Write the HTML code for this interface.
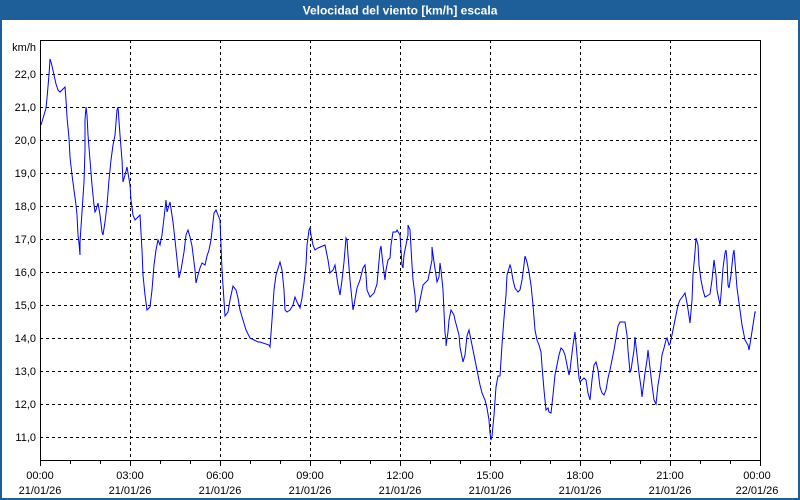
<!DOCTYPE html>
<html><head><meta charset="utf-8"><style>
body{margin:0;background:#fff;}
svg{display:block;font-family:"Liberation Sans",Tahoma,sans-serif;}
</style></head><body>
<svg width="800" height="500" xmlns="http://www.w3.org/2000/svg">
<rect x="0" y="0" width="800" height="500" fill="#1f5f99"/>
<rect x="2" y="20" width="796" height="478" fill="#fff"/>
<text x="400" y="14.5" fill="#fff" font-size="12" font-weight="bold" text-anchor="middle">Velocidad del viento [km/h] escala</text>
<g stroke="#000" stroke-width="1" stroke-dasharray="3,3" shape-rendering="crispEdges">
<line x1="40" x2="760" y1="74.5" y2="74.5"/><line x1="40" x2="760" y1="107.5" y2="107.5"/>
<line x1="40" x2="760" y1="140.5" y2="140.5"/><line x1="40" x2="760" y1="173.5" y2="173.5"/>
<line x1="40" x2="760" y1="206.5" y2="206.5"/><line x1="40" x2="760" y1="239.5" y2="239.5"/>
<line x1="40" x2="760" y1="272.5" y2="272.5"/><line x1="40" x2="760" y1="305.5" y2="305.5"/>
<line x1="40" x2="760" y1="338.5" y2="338.5"/><line x1="40" x2="760" y1="371.5" y2="371.5"/>
<line x1="40" x2="760" y1="404.5" y2="404.5"/><line x1="40" x2="760" y1="437.5" y2="437.5"/>
<line x1="130.5" x2="130.5" y1="40" y2="460"/><line x1="220.5" x2="220.5" y1="40" y2="460"/>
<line x1="310.5" x2="310.5" y1="40" y2="460"/><line x1="400.5" x2="400.5" y1="40" y2="460"/>
<line x1="490.5" x2="490.5" y1="40" y2="460"/><line x1="580.5" x2="580.5" y1="40" y2="460"/>
<line x1="670.5" x2="670.5" y1="40" y2="460"/>
</g>
<rect x="40.5" y="40.5" width="720" height="420" fill="none" stroke="#000" shape-rendering="crispEdges"/>
<g stroke="#000" shape-rendering="crispEdges">
<line x1="40.5" x2="40.5" y1="460" y2="466"/><line x1="70.5" x2="70.5" y1="460" y2="464"/><line x1="100.5" x2="100.5" y1="460" y2="464"/>
<line x1="130.5" x2="130.5" y1="460" y2="466"/><line x1="160.5" x2="160.5" y1="460" y2="464"/><line x1="190.5" x2="190.5" y1="460" y2="464"/>
<line x1="220.5" x2="220.5" y1="460" y2="466"/><line x1="250.5" x2="250.5" y1="460" y2="464"/><line x1="280.5" x2="280.5" y1="460" y2="464"/>
<line x1="310.5" x2="310.5" y1="460" y2="466"/><line x1="340.5" x2="340.5" y1="460" y2="464"/><line x1="370.5" x2="370.5" y1="460" y2="464"/>
<line x1="400.5" x2="400.5" y1="460" y2="466"/><line x1="430.5" x2="430.5" y1="460" y2="464"/><line x1="460.5" x2="460.5" y1="460" y2="464"/>
<line x1="490.5" x2="490.5" y1="460" y2="466"/><line x1="520.5" x2="520.5" y1="460" y2="464"/><line x1="550.5" x2="550.5" y1="460" y2="464"/>
<line x1="580.5" x2="580.5" y1="460" y2="466"/><line x1="610.5" x2="610.5" y1="460" y2="464"/><line x1="640.5" x2="640.5" y1="460" y2="464"/>
<line x1="670.5" x2="670.5" y1="460" y2="466"/><line x1="700.5" x2="700.5" y1="460" y2="464"/><line x1="730.5" x2="730.5" y1="460" y2="464"/>
<line x1="760.5" x2="760.5" y1="460" y2="466"/>
</g>
<g font-size="11" fill="#000" text-anchor="end">
<text x="36" y="51">km/h</text>
<text x="36" y="78">22,0</text><text x="36" y="111">21,0</text><text x="36" y="144">20,0</text>
<text x="36" y="177">19,0</text><text x="36" y="210">18,0</text><text x="36" y="243">17,0</text>
<text x="36" y="276">16,0</text><text x="36" y="309">15,0</text><text x="36" y="342">14,0</text>
<text x="36" y="375">13,0</text><text x="36" y="408">12,0</text><text x="36" y="441">11,0</text>
</g>
<g font-size="11" fill="#000" text-anchor="middle">
<text x="40" y="479">00:00</text><text x="40" y="494">21/01/26</text>
<text x="130" y="479">03:00</text><text x="130" y="494">21/01/26</text>
<text x="220" y="479">06:00</text><text x="220" y="494">21/01/26</text>
<text x="310" y="479">09:00</text><text x="310" y="494">21/01/26</text>
<text x="400" y="479">12:00</text><text x="400" y="494">21/01/26</text>
<text x="490" y="479">15:00</text><text x="490" y="494">21/01/26</text>
<text x="580" y="479">18:00</text><text x="580" y="494">21/01/26</text>
<text x="670" y="479">21:00</text><text x="670" y="494">21/01/26</text>
<text x="757" y="479">00:00</text><text x="757" y="494">22/01/26</text>
</g>
<polyline fill="none" stroke="#0000ff" stroke-width="1" points="41,125 44,115 46,108 47,98 49,75 50,59 51,62 52,66 54,75 56,84 58,90 60,92 62,90 65,87 66,100 67,117 69,138 70,157 72,175 74,190 76,205 77,215 78,235 79,243 80,255 80,242 82,212 84,182 85,150 85,120 86,107 87,115 88,135 90,160 92,185 94,205 95,212 96,210 98,203 100,215 102,232 103,235 105,222 107,205 109,180 111,160 113,145 115,135 117,110 118,107 120,135 122,160 123,182 125,175 127,167 130,185 131,200 133,215 135,220 137,218 140,215 142,250 143,275 145,295 147,310 150,307 152,290 154,265 156,250 158,240 160,245 162,235 164,218 166,200 167,212 170,202 173,222 175,240 179,278 181,270 184,252 186,235 188,230 190,237 192,246 195,270 196,283 198,275 200,268 202,263 205,265 207,256 209,250 211,240 214,213 216,210 218,215 220,220 222,270 225,316 228,312 230,300 233,286 236,290 238,298 240,310 243,320 246,330 250,338 254,340 258,342 260,342 269,345 270,347 272,320 274,290 276,275 280,262 282,270 284,290 285,310 287,312 290,310 293,305 295,297 297,302 300,308 302,298 304,283 306,265 307,245 309,230 310,228 311,235 313,245 315,250 318,248 325,245 328,260 330,273 333,270 335,265 338,285 340,295 342,280 344,262 346,238 347,240 348,255 350,280 352,300 353,310 354,305 357,288 360,280 363,268 365,265 366,275 367,290 370,297 374,293 377,284 380,250 381,246 383,265 385,280 386,270 388,260 390,258 391,245 393,232 396,232 397,230 400,235 401,250 402,265 403,268 404,255 406,245 407,240 408,235 408,225 410,230 412,265 413,280 415,295 416,312 418,310 420,300 423,285 426,282 428,280 430,270 432,260 432,247 434,262 436,275 437,282 439,277 440,263 441,270 443,290 444,312 445,333 446,340 446,346 448,332 449,320 451,310 454,315 455,320 459,335 460,347 463,362 465,355 467,336 469,330 471,340 474,355 477,370 480,385 482,393 485,400 487,408 489,420 490,433 491,440 492,436 494,415 496,387 498,376 500,376 502,345 504,318 506,295 507,275 510,265 511,268 513,280 515,288 518,292 520,290 522,280 524,265 525,256 527,262 529,272 531,285 533,305 535,330 537,340 539,345 541,352 542,366 544,390 545,400 546,410 548,408 549,412 551,413 553,395 555,375 557,365 559,355 561,348 563,350 565,355 567,365 569,375 570,370 573,345 575,332 577,355 579,378 580,382 584,378 586,380 588,393 590,400 592,380 594,365 596,362 598,370 600,387 602,393 604,395 606,390 608,378 610,370 612,360 614,350 616,338 618,326 620,322 625,322 627,335 628,350 630,372 631,370 634,350 635,337 637,355 639,373 641,387 642,397 645,373 647,360 648,350 650,368 652,385 654,400 656,404 658,385 660,373 662,355 664,348 666,340 667,338 669,345 670,344 672,335 674,325 676,315 678,305 680,300 683,296 685,293 687,303 689,316 690,323 692,300 693,275 695,252 696,238 698,245 699,265 701,280 703,290 705,297 707,296 710,294 712,280 714,260 716,275 717,290 720,305 721,295 723,268 725,253 726,250 727,260 728,285 729,288 731,275 733,255 734,250 735,262 737,288 740,310 742,325 745,340 748,345 749,350 751,338 753,325 755,312 756,312"/>
</svg>
</body></html>
